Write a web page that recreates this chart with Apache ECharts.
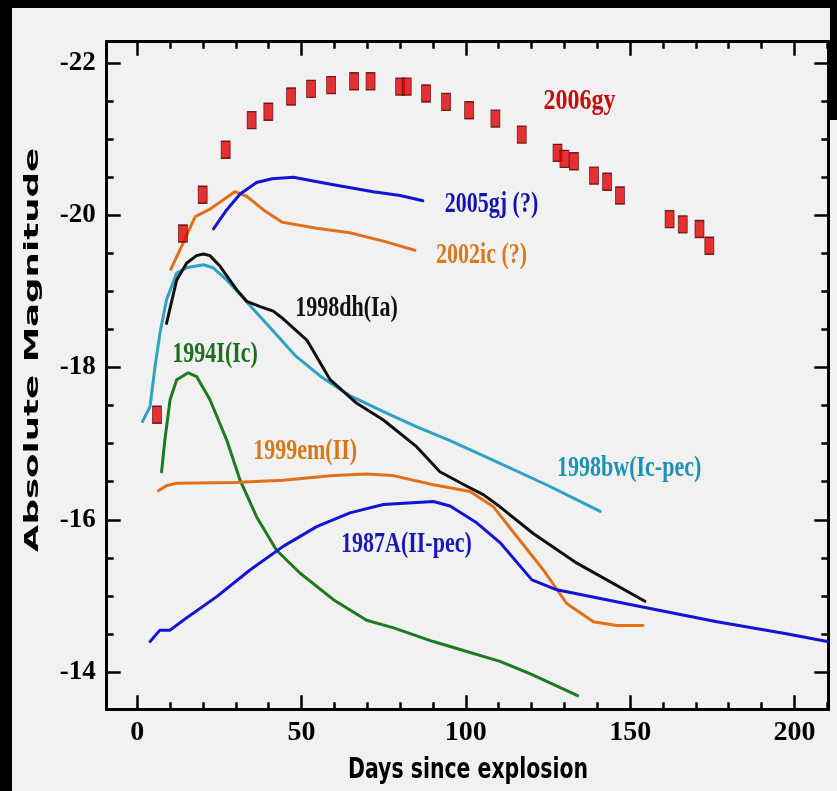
<!DOCTYPE html>
<html><head><meta charset="utf-8">
<script src="https://cdn.jsdelivr.net/npm/echarts@6/dist/echarts.min.js"></script>
<style>html,body{margin:0;padding:0;background:#f1f1f1}#c{width:837px;height:791px}</style>
</head><body><div id="c"></div>
<script>
// ---- tick values ----
const xMajorTicks = [0, 50, 100, 150, 200];
const xMinorTicks = [0, 10, 20, 30, 40, 50, 60, 70, 80, 90, 100, 110, 120, 130, 140, 150, 160, 170, 180, 190, 200, 210];
const yMajorTicks = [-22, -20, -18, -16, -14];
const yMinorTicks = [-22, -21.5, -21, -20.5, -20, -19.5, -19, -18.5, -18, -17.5, -17, -16.5, -16, -15.5, -15, -14.5, -14];

// ---- series data: [days since explosion, absolute magnitude] ----
const sn2006gy = [[6.0,-17.38],[13.9,-19.76],[19.9,-20.27],[26.9,-20.86],[34.8,-21.25],[39.9,-21.36],[46.8,-21.56],[52.9,-21.66],[59.0,-21.71],[66.0,-21.76],[71.0,-21.76],[80.0,-21.69],[82.0,-21.69],[87.9,-21.60],[94.0,-21.49],[101.0,-21.38],[109.0,-21.27],[117.0,-21.06],[127.9,-20.82],[130.0,-20.74],[132.9,-20.71],[139.0,-20.52],[143.0,-20.44],[146.9,-20.26],[162.0,-19.95],[166.0,-19.88],[171.1,-19.82],[174.1,-19.60]];
const sn2005gj = [[23.2,-19.82],[27.2,-20.07],[31.3,-20.28],[36.3,-20.43],[41.0,-20.48],[47.5,-20.50],[59.7,-20.40],[71.8,-20.31],[80.0,-20.26],[86.9,-20.19]];
const sn2002ic = [[10.2,-19.29],[13.5,-19.59],[17.6,-19.98],[22.1,-20.08],[29.7,-20.31],[33.3,-20.25],[38.4,-20.07],[44.0,-19.91],[54.6,-19.83],[64.7,-19.77],[74.9,-19.66],[84.5,-19.54]];
const sn1998dh = [[8.9,-18.58],[12.0,-19.15],[15.0,-19.37],[18.0,-19.47],[20.1,-19.49],[22.1,-19.47],[25.2,-19.33],[30.3,-19.02],[33.3,-18.87],[37.4,-18.80],[41.4,-18.74],[44.4,-18.64],[51.6,-18.36],[58.7,-17.84],[66.8,-17.53],[74.9,-17.31],[85.0,-16.96],[92.1,-16.63],[100.3,-16.44],[105.3,-16.33],[110.4,-16.17],[120.5,-15.82],[133.8,-15.43],[154.5,-14.93]];
const sn1998bw = [[1.6,-17.29],[3.9,-17.49],[5.4,-18.01],[6.9,-18.45],[8.9,-18.89],[12.0,-19.24],[15.0,-19.31],[20.1,-19.35],[23.1,-19.31],[27.2,-19.15],[31.3,-18.96],[36.3,-18.72],[42.4,-18.43],[48.0,-18.16],[55.6,-17.89],[64.7,-17.63],[74.9,-17.42],[85.1,-17.22],[95.2,-17.04],[110.4,-16.74],[125.0,-16.45],[140.9,-16.11]];
const sn1994I = [[7.4,-16.63],[8.4,-17.05],[10.0,-17.58],[12.0,-17.84],[15.5,-17.93],[18.1,-17.88],[22.1,-17.58],[27.2,-17.05],[31.3,-16.52],[36.3,-16.04],[42.4,-15.60],[49.5,-15.30],[59.7,-14.95],[69.8,-14.68],[78.0,-14.58],[90.1,-14.40],[100.3,-14.27],[110.4,-14.14],[120.0,-13.97],[134.0,-13.69]];
const sn1999em = [[6.4,-16.38],[9.0,-16.45],[12.0,-16.48],[29.2,-16.49],[44.4,-16.52],[59.7,-16.58],[69.8,-16.60],[77.9,-16.58],[90.1,-16.46],[101.3,-16.37],[108.4,-16.17],[115.5,-15.78],[123.6,-15.34],[130.7,-14.90],[138.8,-14.66],[145.9,-14.61],[153.9,-14.61]];
const sn1987A = [[3.9,-14.40],[6.9,-14.55],[10.0,-14.55],[14.0,-14.68],[24.2,-14.99],[34.3,-15.34],[44.4,-15.65],[54.6,-15.91],[64.7,-16.09],[74.9,-16.20],[90.1,-16.24],[95.2,-16.18],[103.3,-15.96],[110.4,-15.70],[120.1,-15.21],[127.7,-15.08],[153.0,-14.86],[176.4,-14.66],[196.7,-14.51],[210.0,-14.40]];

// ---- curve labels: anchor in data coordinates ----
const labelTexts = ['2006gy','2005gj (?)','2002ic (?)','1998dh(Ia)','1994I(Ic)','1999em(II)','1987A(II-pec)','1998bw(Ic-pec)'];
const labelAnchors = [[134.6,-21.50],[107.8,-20.15],[104.8,-19.47],[63.7,-18.78],[23.7,-18.17],[51.1,-16.90],[81.9,-15.68],[149.7,-16.68]];
const labelColors = ['#c80a0a','#1212b4','#d9781c','#111111','#1e6e1e','#d4781c','#1818b8','#1e90b4'];

const X_MIN = -9.3, X_MAX = 210.3, Y_MIN = -22.28, Y_MAX = -13.51;
const AX = '#000';
const SERIF = '"Liberation Serif","DejaVu Serif",serif';

function xAx(pos, ticks, len, labels) {
  return {
    type: 'value', position: pos, min: X_MIN, max: X_MAX,
    axisLine: { show: true, onZero: false, lineStyle: { color: AX, width: 3 } },
    axisTick: { show: true, inside: true, length: len, customValues: ticks, lineStyle: { color: AX, width: 2.5 } },
    axisLabel: labels ? { show: true, customValues: ticks, margin: 9, color: '#000', fontSize: 28, fontWeight: 'bold', fontFamily: SERIF } : { show: false },
    splitLine: { show: false }
  };
}
function yAx(pos, ticks, len, labels) {
  return {
    type: 'value', position: pos, min: Y_MIN, max: Y_MAX, inverse: true,
    axisLine: { show: true, onZero: false, lineStyle: { color: AX, width: 3 } },
    axisTick: { show: true, inside: true, length: len, customValues: ticks, lineStyle: { color: AX, width: 2.5 } },
    axisLabel: labels ? { show: true, customValues: ticks, margin: 11, color: '#000', fontSize: 27, fontWeight: 'bold', fontFamily: SERIF } : { show: false },
    splitLine: { show: false }
  };
}

function line(name, data, color) {
  return { name, type: 'line', data, xAxisIndex: 0, yAxisIndex: 0, showSymbol: false, symbol: 'none',
    smooth: false, lineStyle: { color, width: 3, join: 'round', cap: 'round' }, z: 3, animation: false };
}

const chart = echarts.init(document.getElementById('c'), null, { renderer: 'canvas' });

chart.setOption({
  backgroundColor: '#f1f1f1',
  animation: false,
  grid: { left: 106.7, right: 8.7, top: 41.7, bottom: 81.7, containLabel: false },
  xAxis: [xAx('bottom', xMajorTicks, 14, true), xAx('bottom', xMinorTicks, 7, false), xAx('top', xMajorTicks, 14, false), xAx('top', xMinorTicks, 7, false)],
  yAxis: [yAx('left', yMajorTicks, 14, true), yAx('left', yMinorTicks, 7, false), yAx('right', yMajorTicks, 14, false), yAx('right', yMinorTicks, 7, false)],
  series: [
    line('SN 1998bw', sn1998bw, '#2ea2c6'),
    line('SN 1998dh', sn1998dh, '#111111'),
    line('SN 1994I', sn1994I, '#1e7a1e'),
    line('SN 1999em', sn1999em, '#e2701a'),
    line('SN 1987A', sn1987A, '#1414d2'),
    line('SN 2002ic', sn2002ic, '#e2701a'),
    line('SN 2005gj', sn2005gj, '#1414d2'),
    { name: 'SN 2006gy', type: 'scatter', data: sn2006gy, xAxisIndex: 0, yAxisIndex: 0, symbol: 'rect', symbolSize: [9, 17],
      itemStyle: { color: '#e00000', borderColor: '#500000', borderWidth: 1 }, z: 5, animation: false }
  ]
});

const g = [
  { type: 'rect', shape: { x: 0, y: 0, width: 837, height: 8 }, style: { fill: '#000' }, z: 100 },
  { type: 'rect', shape: { x: 0, y: 0, width: 12, height: 791 }, style: { fill: '#000' }, z: 100 },
  { type: 'rect', shape: { x: 830, y: 0, width: 7, height: 120 }, style: { fill: '#000' }, z: 100 },
  { type: 'text', x: 33, y: 350, rotation: Math.PI / 2, scaleX: 1.78, scaleY: 1,
    style: { text: 'Absolute Magnitude', fontSize: 20, fontWeight: 'bold', fontFamily: '"DejaVu Sans",sans-serif', fill: '#000', align: 'center', verticalAlign: 'middle' }, z: 100 },
  { type: 'text', x: 468, y: 771, scaleX: 0.73, scaleY: 1,
    style: { text: 'Days since explosion', fontSize: 28, fontWeight: 'bold', fontFamily: '"DejaVu Sans",sans-serif', fill: '#000', align: 'center', verticalAlign: 'middle' }, z: 100 }
];
labelTexts.forEach((t, i) => {
  const p = chart.convertToPixel({ xAxisIndex: 0, yAxisIndex: 0 }, labelAnchors[i]);
  const big = i === 0;
  g.push({ type: 'text', x: p[0], y: p[1], scaleX: 1, scaleY: big ? 1.25 : 1.35,
    style: { text: t, fontSize: big ? 24 : 22, fontWeight: 'bold', fontFamily: SERIF, fill: labelColors[i], align: 'center', verticalAlign: 'middle' }, z: 50 });
});
chart.setOption({ graphic: g });
</script>
</body></html>
